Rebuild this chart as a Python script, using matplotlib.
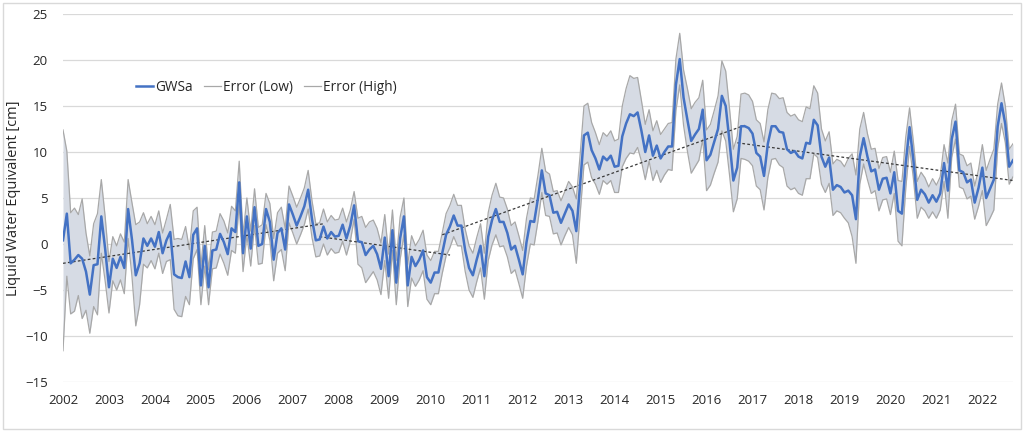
import numpy as np
import matplotlib
matplotlib.use('Agg')
import matplotlib.pyplot as plt
from matplotlib.lines import Line2D
from matplotlib.patches import Rectangle

plt.rcParams['font.family'] = ['Open Sans', 'DejaVu Sans']

start_year = 2002

# Monthly GWSa anomaly [cm], starting Jan 2002
gwsa = [
    0.4, 3.3, -2.1, -1.7, -1.2, -1.6, -3.0, -5.5, -2.3, -2.2, 3.0, -0.5,
    -4.7, -1.6, -2.6, -1.4, -2.6, 3.8, 0.5, -3.4, -2.1, 0.6, -0.2, 0.6,
    -0.3, 1.3, -1.0, 0.4, 1.3, -3.3, -3.6, -3.7, -1.9, -3.6, 1.0, 1.7,
    -4.5, -0.2, -4.7, -0.7, -0.6, 1.1, 0.2, -1.1, 1.7, 1.3, 6.7, -1.0,
    3.0, -0.5, 4.0, -0.2, 0.0, 3.8, 2.4, -1.7, 1.2, 1.7, -0.6, 4.3,
    3.2, 2.0, 3.0, 4.1, 5.9, 2.7, 0.4, 0.5, 1.9, 0.6, 1.3, 0.8,
    0.9, 2.1, 0.6, 2.0, 4.2, 0.3, 0.2, -1.2, -0.6, -0.2, -1.1, -2.7,
    0.7, -3.5, 1.5, -4.2, 0.6, 3.0, -4.5, -1.4, -2.4, -1.7, -0.7, -3.6,
    -4.2, -3.1, -3.1, -1.0, 1.0, 1.9, 3.1, 2.0, 2.0, -0.7, -2.6, -3.4,
    -1.7, -0.2, -3.5, 0.8, 2.6, 3.8, 2.4, 2.4, 1.2, -0.6, -0.2, -1.7,
    -3.3, 0.2, 2.5, 2.4, 5.0, 8.0, 5.5, 5.3, 3.4, 3.5, 2.3, 3.3,
    4.3, 3.6, 1.4, 6.5, 11.8, 12.1, 10.2, 9.3, 8.1, 9.5, 9.1, 9.6,
    8.4, 8.5, 11.7, 13.1, 14.1, 13.9, 14.3, 12.3, 10.0, 11.8, 9.6, 10.7,
    9.3, 10.0, 10.6, 10.6, 17.3, 20.1, 15.9, 13.5, 11.2, 11.9, 12.5, 14.6,
    9.1, 9.7, 11.1, 12.5, 16.1, 15.0, 11.1, 6.9, 8.3, 12.8, 12.8, 12.6,
    12.0, 9.9, 9.5, 7.4, 10.9, 12.8, 12.8, 12.2, 12.1, 10.3, 9.9, 10.1,
    9.5, 9.3, 11.0, 10.9, 13.5, 12.9, 9.5, 8.4, 9.4, 5.9, 6.4, 6.2,
    5.6, 5.8, 5.3, 2.7, 9.5, 11.5, 9.5, 7.9, 8.1, 5.9, 7.1, 7.2,
    5.5, 7.8, 3.6, 3.3, 8.8, 12.7, 9.1, 4.8, 5.9, 5.4, 4.5, 5.3,
    4.6, 5.5, 8.8, 5.8, 11.4, 13.3, 8.0, 7.8, 6.7, 7.0, 4.5, 6.1,
    8.3, 5.0, 6.0, 7.0, 12.8, 15.3, 13.0, 8.4, 9.1,
]

# Error half-width [cm] (Error Low = GWSa - err, Error High = GWSa + err)
err = [
    12.0, 6.8, 5.5, 5.6, 4.4, 6.5, 4.2, 4.2, 4.5, 5.5, 4.0, 3.5,
    2.8, 2.4, 2.4, 2.5, 2.8, 3.2, 4.0, 5.5, 4.5, 2.8, 2.4, 2.4,
    2.4, 2.3, 2.2, 2.3, 3.0, 3.8, 4.2, 4.2, 3.8, 3.0, 2.6, 2.3,
    2.1, 2.2, 1.9, 2.0, 2.0, 2.2, 2.3, 2.3, 2.4, 2.3, 2.3, 2.0,
    2.0, 1.9, 2.0, 2.0, 2.1, 1.7, 2.0, 2.3, 2.2, 2.3, 2.3, 2.0,
    2.0, 2.0, 2.0, 2.0, 2.1, 2.0, 1.8, 1.8, 1.9, 1.8, 1.8, 1.8,
    1.8, 1.8, 1.8, 1.7, 1.5, 2.5, 2.8, 3.0, 3.0, 2.8, 2.8, 2.8,
    2.5, 2.4, 2.2, 2.4, 2.3, 2.0, 2.3, 2.3, 2.2, 2.2, 2.2, 2.4,
    2.4, 2.3, 2.3, 2.2, 2.3, 2.3, 2.3, 2.2, 2.2, 2.3, 2.4, 2.4,
    2.4, 2.4, 2.5, 2.6, 2.7, 2.8, 2.7, 2.6, 2.6, 2.6, 2.6, 2.6,
    2.6, 2.6, 2.5, 2.5, 2.5, 2.4, 2.4, 2.3, 2.3, 2.3, 2.4, 2.4,
    2.5, 2.6, 3.5, 3.2, 3.2, 3.2, 3.0, 2.8, 2.7, 2.6, 2.6, 2.7,
    2.8, 2.9, 3.3, 3.8, 4.2, 4.1, 3.8, 3.3, 3.0, 2.8, 2.7, 2.7,
    2.6, 2.5, 2.5, 2.6, 2.8, 2.8, 3.0, 3.4, 3.5, 3.5, 3.4, 3.2,
    3.3, 3.3, 3.4, 3.6, 3.8, 3.8, 3.6, 3.4, 3.4, 3.5, 3.6, 3.6,
    3.5, 3.6, 3.6, 3.7, 3.7, 3.6, 3.5, 3.6, 3.8, 4.0, 4.0, 4.0,
    4.0, 4.0, 3.9, 3.8, 3.7, 3.5, 3.0, 2.8, 2.8, 2.8, 2.8, 2.8,
    2.8, 3.5, 4.5, 4.8, 3.0, 2.8, 2.5, 2.4, 2.3, 2.3, 2.3, 2.3,
    2.3, 2.3, 3.3, 3.5, 2.8, 2.1, 2.0, 2.0, 1.9, 1.8, 1.7, 1.8,
    1.8, 1.8, 2.0, 3.0, 2.0, 1.9, 1.8, 1.8, 1.8, 1.8, 1.8, 2.0,
    2.5, 3.0, 3.2, 3.3, 2.4, 2.2, 2.0, 1.9, 1.8,
]

# Piecewise linear trend segments (decimal year, value)
trend_x0 = [2002.00, 2007.58, 2010.25, 2016.67]
trend_x1 = [2007.67, 2010.42, 2016.83, 2022.67]
trend_y0 = [-2.1, 0.8, 1.0, 11.0]
trend_y1 = [2.2, -1.2, 12.9, 6.9]

year_ticks = list(range(2002, 2023))
y_ticks = [-15, -10, -5, 0, 5, 10, 15, 20, 25]

g = np.array(gwsa)
e = np.array(err)
x = start_year + np.arange(len(g)) / 12.0
low = g - e
high = g + e

fig = plt.figure(figsize=(10.24, 4.32), dpi=100)
ax = fig.add_axes([63 / 1024, 1 - 382 / 432, 950 / 1024, 368 / 432])

ax.fill_between(x, low, high, color='#D6DBE4', lw=0, zorder=2)
ax.plot(x, low, color='#A8A8A8', lw=0.9, zorder=3)
ax.plot(x, high, color='#A8A8A8', lw=0.9, zorder=3)
for a, b, c, d in zip(trend_x0, trend_x1, trend_y0, trend_y1):
    ax.plot([a, b], [c, d], color='#3A3A3A', lw=0.9, ls=(0, (2.2, 1.8)), zorder=4)
ax.plot(x, g, color='#4472C4', lw=1.8, zorder=5)

ax.set_xlim(start_year, x[-1])
ax.set_ylim(-15, 25)
ax.set_yticks(y_ticks)
ax.set_xticks(year_ticks)
ax.set_xticklabels([str(y) for y in year_ticks])
ax.grid(axis='y', color='#D9D9D9', lw=0.9, zorder=0)
ax.set_axisbelow(True)
for s in ax.spines.values():
    s.set_visible(False)
ax.tick_params(length=0, labelsize=9.5, colors='#262626')
ax.tick_params(axis='x', pad=9)
ax.tick_params(axis='y', pad=11)
ax.set_ylabel('Liquid Water Equivalent [cm]', fontsize=10.5, color='#262626')
ax.yaxis.set_label_coords(-0.044, 0.5)

handles = [
    Line2D([], [], color='#4472C4', lw=1.8),
    Line2D([], [], color='#A8A8A8', lw=0.9),
    Line2D([], [], color='#A8A8A8', lw=0.9),
]
leg = ax.legend(handles, ['GWSa', 'Error (Low)', 'Error (High)'], ncol=3,
                loc='center left', bbox_to_anchor=(0.064, 0.80), frameon=False,
                fontsize=9.8, handlelength=1.25, handletextpad=0.12,
                columnspacing=0.85)
for t in leg.get_texts():
    t.set_color('#262626')

fig.patches.append(Rectangle((0.003, 0.006), 0.994, 0.988, transform=fig.transFigure,
                             fill=False, edgecolor='#D9D9D9', lw=1))

fig.savefig('out.png', dpi=100)
